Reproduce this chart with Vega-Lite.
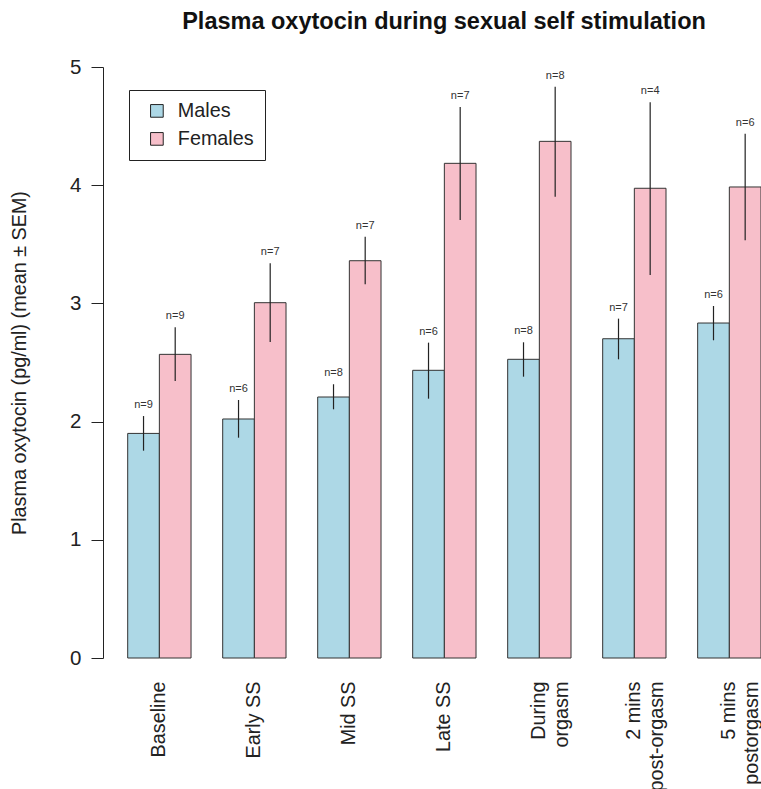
{
  "$schema": "https://vega.github.io/schema/vega-lite/v6.json",
  "width": 658,
  "height": 591,
  "autosize": {"type": "none"},
  "padding": {"left": 103, "top": 67, "right": 0, "bottom": 131},
  "background": "white",
  "config": {
    "font": "Liberation Sans",
    "view": {"stroke": null},
    "axis": {"labelFont": "Liberation Sans", "titleFont": "Liberation Sans", "labelColor": "#222", "titleColor": "#222"}
  },
  "title": {
    "text": "Plasma oxytocin during sexual self stimulation",
    "fontSize": 23.5,
    "fontWeight": "bold",
    "font": "Liberation Sans",
    "color": "#111",
    "anchor": "middle",
    "dx": 12,
    "offset": 24
  },
  "data": {
    "values": [
      {"phase": "Baseline", "sex": "Males", "mean": 1.90, "lo": 1.754, "hi": 2.047, "n": "n=9"},
      {"phase": "Baseline", "sex": "Females", "mean": 2.569, "lo": 2.343, "hi": 2.798, "n": "n=9"},
      {"phase": "Early SS", "sex": "Males", "mean": 2.022, "lo": 1.864, "hi": 2.183, "n": "n=6"},
      {"phase": "Early SS", "sex": "Females", "mean": 3.006, "lo": 2.673, "hi": 3.339, "n": "n=7"},
      {"phase": "Mid SS", "sex": "Males", "mean": 2.208, "lo": 2.104, "hi": 2.316, "n": "n=8"},
      {"phase": "Mid SS", "sex": "Females", "mean": 3.361, "lo": 3.162, "hi": 3.564, "n": "n=7"},
      {"phase": "Late SS", "sex": "Males", "mean": 2.434, "lo": 2.194, "hi": 2.668, "n": "n=6"},
      {"phase": "Late SS", "sex": "Females", "mean": 4.185, "lo": 3.706, "hi": 4.662, "n": "n=7"},
      {"phase": "During orgasm", "sex": "Males", "mean": 2.527, "lo": 2.380, "hi": 2.671, "n": "n=8"},
      {"phase": "During orgasm", "sex": "Females", "mean": 4.371, "lo": 3.903, "hi": 4.833, "n": "n=8"},
      {"phase": "2 mins post-orgasm", "sex": "Males", "mean": 2.701, "lo": 2.527, "hi": 2.871, "n": "n=7"},
      {"phase": "2 mins post-orgasm", "sex": "Females", "mean": 3.974, "lo": 3.240, "hi": 4.701, "n": "n=4"},
      {"phase": "5 mins postorgasm", "sex": "Males", "mean": 2.834, "lo": 2.688, "hi": 2.978, "n": "n=6"},
      {"phase": "5 mins postorgasm", "sex": "Females", "mean": 3.985, "lo": 3.534, "hi": 4.436, "n": "n=6"}
    ]
  },
  "encoding": {
    "x": {
      "field": "phase",
      "type": "nominal",
      "sort": ["Baseline", "Early SS", "Mid SS", "Late SS", "During orgasm", "2 mins post-orgasm", "5 mins postorgasm"],
      "scale": {"paddingInner": 0.3333, "paddingOuter": 0.13, "align": 1},
      "axis": {
        "title": null,
        "domain": false,
        "ticks": false,
        "labelAngle": -90,
        "labelAlign": "right",
        "labelBaseline": "middle",
        "labelFontSize": 19.8,
        "labelPadding": 23,
        "labelLineHeight": 23,
        "labelExpr": "datum.value == 'During orgasm' ? ['During', 'orgasm'] : datum.value == '2 mins post-orgasm' ? ['2 mins', 'post-orgasm'] : datum.value == '5 mins postorgasm' ? ['5 mins', 'postorgasm'] : datum.value"
      }
    },
    "xOffset": {"field": "sex", "type": "nominal", "sort": ["Males", "Females"], "scale": {"paddingInner": 0, "paddingOuter": 0}}
  },
  "layer": [
    {
      "mark": {"type": "bar", "stroke": "#333", "strokeWidth": 1},
      "encoding": {
        "y": {
          "field": "mean",
          "type": "quantitative",
          "scale": {"domain": [0, 5], "nice": false, "zero": true},
          "axis": {
            "title": "Plasma oxytocin (pg/ml) (mean ± SEM)",
            "titleFontSize": 19.8,
            "titleFontWeight": "normal",
            "titlePadding": 40,
            "values": [0, 1, 2, 3, 4, 5],
            "format": "d",
            "grid": false,
            "labelFontSize": 20.5,
            "labelPadding": 10,
            "tickSize": 12,
            "tickColor": "#222",
            "domainColor": "#222",
            "labelAngle": 0
          }
        },
        "color": {
          "field": "sex",
          "type": "nominal",
          "scale": {"domain": ["Males", "Females"], "range": ["#ADD8E6", "#F7BFCA"]},
          "legend": {
            "title": null,
            "orient": "none",
            "legendX": 26,
            "legendY": 23,
            "direction": "vertical",
            "strokeColor": "#222",
            "padding": 11,
            "symbolType": "square",
            "symbolSize": 160,
            "symbolStrokeColor": "#222",
            "symbolStrokeWidth": 1,
            "symbolOffset": 7,
            "labelFontSize": 19.8,
            "labelOffset": 11,
            "labelColor": "#222",
            "rowPadding": 7
          }
        }
      }
    },
    {
      "mark": {"type": "rule", "color": "#222", "strokeWidth": 1.2},
      "encoding": {
        "y": {"field": "lo", "type": "quantitative"},
        "y2": {"field": "hi"}
      }
    },
    {
      "mark": {"type": "text", "fontSize": 11, "color": "#333", "baseline": "alphabetic", "dy": -8},
      "encoding": {
        "y": {"field": "hi", "type": "quantitative"},
        "text": {"field": "n"}
      }
    }
  ]
}
